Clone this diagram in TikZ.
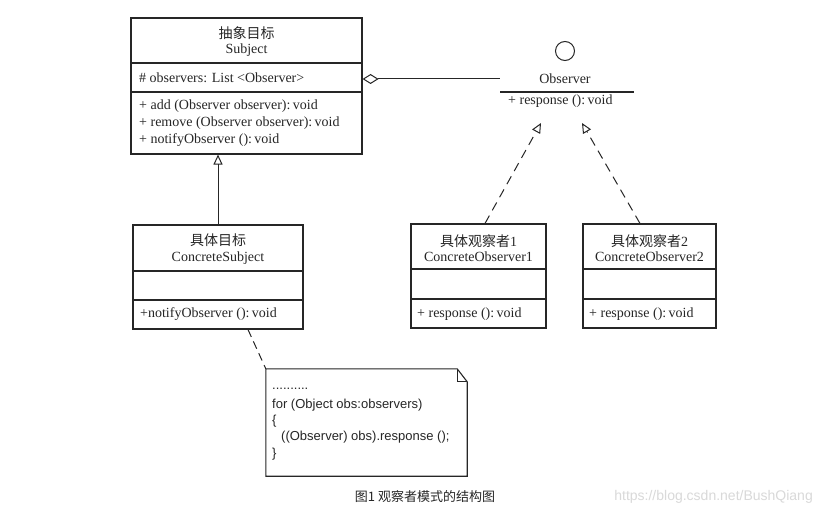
\documentclass[tikz,border=0pt]{standalone}
\usepackage{fontspec}
\setmainfont{Liberation Serif}
\newfontfamily\cjk{Noto Sans CJK SC}
\newfontfamily\notefont{Liberation Sans}
\usetikzlibrary{arrows.meta,positioning,calc}
\definecolor{ink}{HTML}{262626}
\definecolor{mark}{HTML}{D9D9D9}

\tikzset{
  classbox/.style={draw=ink, line width=1.1pt, inner sep=0pt},
  divider/.style={draw=ink, line width=1.1pt},
  member/.style={anchor=west, inner sep=0pt, text=ink},
  title/.style={inner sep=0pt, text=ink},
  realize/.style={draw=ink, line width=1pt, dash pattern=on 9pt off 6pt,
    -{Triangle[open, length=10pt, width=9pt]}},
}

\begin{document}
\begin{tikzpicture}[x=1pt, y=-1pt, font=\fontsize{14}{17}\selectfont]
  \useasboundingbox[fill=white] (0,0) rectangle (822,511);

  % abstract subject
  \node[classbox, minimum width=231pt, minimum height=136pt] (subject) at (246.5,86) {};
  \draw[divider] (131,63) -- (362,63);
  \draw[divider] (131,92) -- (362,92);
  \node[title] (subjcn) at (246.5,33) {\cjk 抽象目标};
  \node[title] (subjen) at (246.5,50) {Subject};
  \node[member] (subjattr) at (139,78) {\# observers: List <Observer>};
  \node[member] (subjadd) at (139,106) {+ add (Observer observer):\,void};
  \node[member] (subjrem) at (139,123) {+ remove (Observer observer):\,void};
  \node[member] (subjnot) at (139,140) {+ notifyObserver ():\,void};

  % observer interface
  \node[circle, draw=ink, line width=1pt, minimum size=19pt, inner sep=0pt] (obsicon) at (565,51) {};
  \node[title] (obs) at (565,79) {Observer};
  \draw[divider] (500,92) -- (634,92);
  \node[member] (obsresp) at (508,101) {+ response ():\,void};
  \coordinate (obsleft) at (500,79);
  \coordinate (tip1) at (541,123);
  \coordinate (tip2) at (582,123);

  % concrete subject
  \node[classbox, minimum width=170pt, minimum height=104pt] (cs) at (218,277) {};
  \draw[divider] (133,271) -- (303,271);
  \draw[divider] (133,300) -- (303,300);
  \node[title] (cscn) at (218,240) {\cjk 具体目标};
  \node[title] (csen) at (218,258) {ConcreteSubject};
  \node[member] (csnot) at (140,314) {+notifyObserver ():\,void};

  % concrete observers
  \node[classbox, minimum width=135pt, minimum height=104pt] (co1) at (478.5,276) {};
  \draw[divider] (411,269) -- (546,269);
  \draw[divider] (411,299) -- (546,299);
  \node[title] (co1cn) at (478.5,241) {{\cjk 具体观察者}1};
  \node[title] (co1en) at (478.5,257) {ConcreteObserver1};
  \node[member] (co1resp) at (417,314) {+ response ():\,void};

  \node[classbox, minimum width=133pt, minimum height=104pt] (co2) at (649.5,276) {};
  \draw[divider] (583,269) -- (716,269);
  \draw[divider] (583,299) -- (716,299);
  \node[title] (co2cn) at (649.5,241) {{\cjk 具体观察者}2};
  \node[title] (co2en) at (649.5,257) {ConcreteObserver2};
  \node[member] (co2resp) at (589,314) {+ response ():\,void};

  % note
  \node[minimum width=201pt, minimum height=107pt, inner sep=0pt] (note) at (366.5,422.5) {};
  \draw[divider, fill=white] (note.north west) -- ($(note.north east)+(-10,0)$)
    -- ($(note.north east)+(0,13)$) -- (note.south east) -- (note.south west) -- cycle;
  \draw[divider] ($(note.north east)+(-10,0)$) -- ($(note.north east)+(-10,13)$)
    -- ($(note.north east)+(0,13)$);
  \begin{scope}[every node/.style={member, font=\notefont\fontsize{13}{16}\selectfont}]
    \node (note1) at (272,389) {..........};
    \node (note2) at (272,405) {for (Object obs:observers)};
    \node (note3) at (272,421) {\{};
    \node (note4) at (281,437) {((Observer) obs).response ();};
    \node (note5) at (272,454) {\}};
  \end{scope}

  % connectors
  \draw[ink, line width=1pt, -{Triangle[open, length=10pt, width=9pt]}]
    (cs.north) -- (cs.north |- subject.south);
  \draw[ink, line width=1pt, {Diamond[open, length=16pt, width=10pt]}-]
    (subject.east |- obsleft) -- (obsleft);
  \draw[realize] ($(co1.north)+(6.5,0)$) -- (tip1);
  \draw[realize] ($(co2.north)+(-9.5,0)$) -- (tip2);
  \draw[ink, line width=1pt, dash pattern=on 8pt off 5pt]
    ($(cs.south)+(30,0)$) -- (note.north west);

  % caption and watermark
  \node[title, font=\cjk\fontsize{13}{16}\selectfont] (caption) at (425,497) {图1 观察者模式的结构图};
  \node[anchor=east, inner sep=0pt, text=mark, font=\notefont\fontsize{14}{16}\selectfont] (wm) at (813,497) {https://blog.csdn.net/BushQiang};
\end{tikzpicture}
\end{document}
